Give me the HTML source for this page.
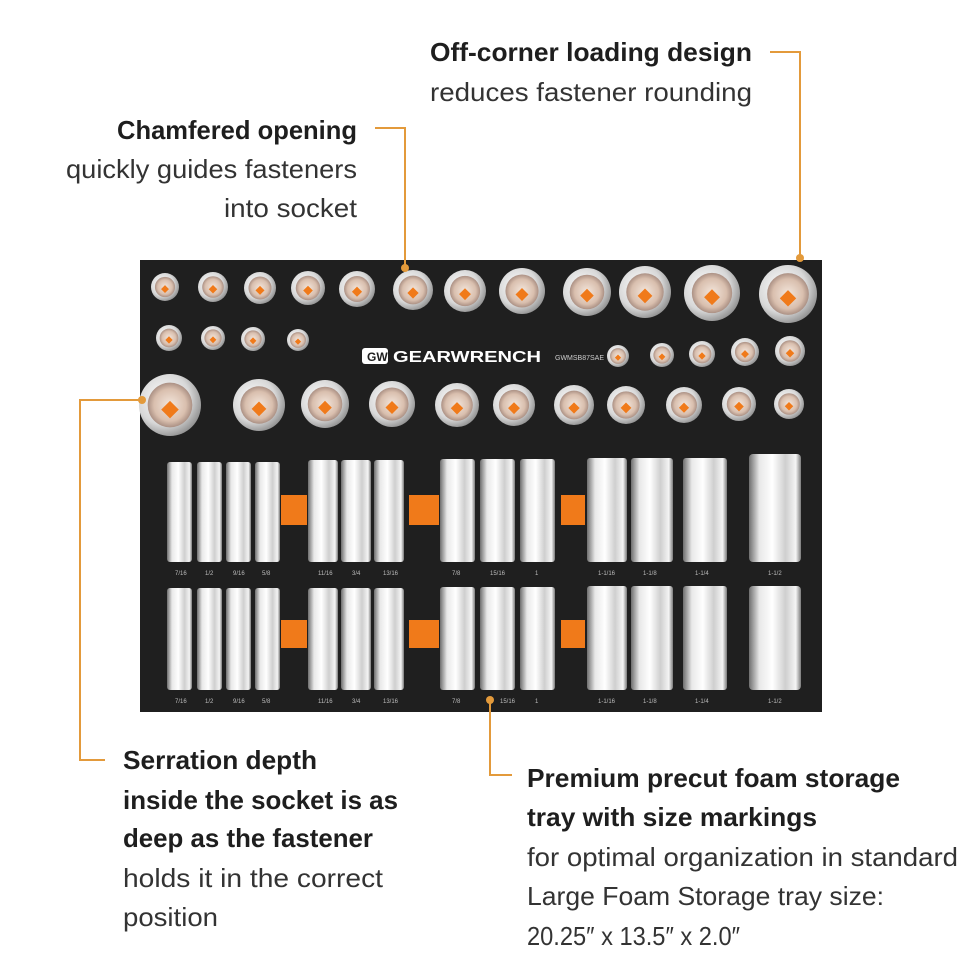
<!DOCTYPE html>
<html><head><meta charset="utf-8"><style>html,body{margin:0;padding:0;background:#fff}svg{display:block}</style></head>
<body>
<svg width="970" height="971" viewBox="0 0 970 971" xmlns="http://www.w3.org/2000/svg" font-family="Liberation Sans, sans-serif">
<defs>
<linearGradient id="ch" x1="0" x2="1" y1="0" y2="0">
<stop offset="0" stop-color="#6e6e6e"/><stop offset="0.2" stop-color="#e8e8e8"/><stop offset="0.45" stop-color="#ffffff"/><stop offset="0.7" stop-color="#cfcfcf"/><stop offset="0.9" stop-color="#f4f4f4"/><stop offset="1" stop-color="#7a7a7a"/>
</linearGradient>
<radialGradient id="rc" cx="0.4" cy="0.4" r="0.7">
<stop offset="0" stop-color="#ffffff"/><stop offset="0.6" stop-color="#d8d8d8"/><stop offset="1" stop-color="#7d7d7d"/>
</radialGradient>
<radialGradient id="inn" cx="0.5" cy="0.5" r="0.6">
<stop offset="0" stop-color="#f3e6dc"/><stop offset="0.6" stop-color="#d9bfae"/><stop offset="1" stop-color="#8a6f66"/>
</radialGradient>
<g id="s"><circle r="1" fill="url(#rc)"/><circle r="0.72" fill="url(#inn)"/><rect x="-0.2" y="-0.05" width="0.4" height="0.4" fill="#f07a1a" transform="rotate(45 0 0.15)"/></g>
</defs>
<rect width="970" height="971" fill="#fff"/>
<rect x="140" y="260" width="682" height="452" fill="#1f1f1f"/>

<use href="#s" transform="translate(165,287) scale(14)"/>
<use href="#s" transform="translate(213,287) scale(15)"/>
<use href="#s" transform="translate(260,288) scale(16)"/>
<use href="#s" transform="translate(308,288) scale(17)"/>
<use href="#s" transform="translate(357,289) scale(18)"/>
<use href="#s" transform="translate(413,290) scale(20)"/>
<use href="#s" transform="translate(465,291) scale(21)"/>
<use href="#s" transform="translate(522,291) scale(23)"/>
<use href="#s" transform="translate(587,292) scale(24)"/>
<use href="#s" transform="translate(645,292) scale(26)"/>
<use href="#s" transform="translate(712,293) scale(28)"/>
<use href="#s" transform="translate(788,294) scale(29)"/>

<use href="#s" transform="translate(169,338) scale(13)"/>
<use href="#s" transform="translate(213,338) scale(12)"/>
<use href="#s" transform="translate(253,339) scale(12)"/>
<use href="#s" transform="translate(298,340) scale(11)"/>
<use href="#s" transform="translate(618,356) scale(11)"/>
<use href="#s" transform="translate(662,355) scale(12)"/>
<use href="#s" transform="translate(702,354) scale(13)"/>
<use href="#s" transform="translate(745,352) scale(14)"/>
<use href="#s" transform="translate(790,351) scale(15)"/>
<rect x="362" y="348" width="26" height="16" rx="3" fill="#fff"/>
<text x="367" y="361" font-size="12" font-weight="bold" fill="#1f1f1f">GW</text>
<text x="393" y="362" font-size="16" font-weight="bold" fill="#fff" textLength="148" lengthAdjust="spacingAndGlyphs">GEARWRENCH</text>
<text x="555" y="360" font-size="7" fill="#ccc">GWMSB87SAE</text>

<use href="#s" transform="translate(170,405) scale(31)"/>
<use href="#s" transform="translate(259,405) scale(26)"/>
<use href="#s" transform="translate(325,404) scale(24)"/>
<use href="#s" transform="translate(392,404) scale(23)"/>
<use href="#s" transform="translate(457,405) scale(22)"/>
<use href="#s" transform="translate(514,405) scale(21)"/>
<use href="#s" transform="translate(574,405) scale(20)"/>
<use href="#s" transform="translate(626,405) scale(19)"/>
<use href="#s" transform="translate(684,405) scale(18)"/>
<use href="#s" transform="translate(739,404) scale(17)"/>
<use href="#s" transform="translate(789,404) scale(15)"/>

<g fill="#f07a1a">
<rect x="281" y="495" width="26" height="30"/><rect x="409" y="495" width="30" height="30"/><rect x="561" y="495" width="24" height="30"/>
<rect x="281" y="620" width="26" height="28"/><rect x="409" y="620" width="30" height="28"/><rect x="561" y="620" width="24" height="28"/>
</g>
<g fill="url(#ch)">
<rect x="167" y="462" width="25" height="100" rx="3"/><rect x="197" y="462" width="25" height="100" rx="3"/><rect x="226" y="462" width="25" height="100" rx="3"/><rect x="255" y="462" width="25" height="100" rx="3"/>
<rect x="308" y="460" width="30" height="102" rx="3"/><rect x="341" y="460" width="30" height="102" rx="3"/><rect x="374" y="460" width="30" height="102" rx="3"/>
<rect x="440" y="459" width="35" height="103" rx="3"/><rect x="480" y="459" width="35" height="103" rx="3"/><rect x="520" y="459" width="35" height="103" rx="3"/>
<rect x="587" y="458" width="40" height="104" rx="3"/><rect x="631" y="458" width="42" height="104" rx="3"/><rect x="683" y="458" width="44" height="104" rx="3"/><rect x="749" y="454" width="52" height="108" rx="4"/>
<rect x="167" y="588" width="25" height="102" rx="3"/><rect x="197" y="588" width="25" height="102" rx="3"/><rect x="226" y="588" width="25" height="102" rx="3"/><rect x="255" y="588" width="25" height="102" rx="3"/>
<rect x="308" y="588" width="30" height="102" rx="3"/><rect x="341" y="588" width="30" height="102" rx="3"/><rect x="374" y="588" width="30" height="102" rx="3"/>
<rect x="440" y="587" width="35" height="103" rx="3"/><rect x="480" y="587" width="35" height="103" rx="3"/><rect x="520" y="587" width="35" height="103" rx="3"/>
<rect x="587" y="586" width="40" height="104" rx="3"/><rect x="631" y="586" width="42" height="104" rx="3"/><rect x="683" y="586" width="44" height="104" rx="3"/><rect x="749" y="586" width="52" height="104" rx="4"/>
</g>
<g fill="#bbb" font-size="6">
<text x="175" y="575">7/16</text><text x="205" y="575">1/2</text><text x="233" y="575">9/16</text><text x="262" y="575">5/8</text>
<text x="318" y="575">11/16</text><text x="352" y="575">3/4</text><text x="383" y="575">13/16</text>
<text x="452" y="575">7/8</text><text x="490" y="575">15/16</text><text x="535" y="575">1</text>
<text x="598" y="575">1-1/16</text><text x="643" y="575">1-1/8</text><text x="695" y="575">1-1/4</text><text x="768" y="575">1-1/2</text>
<text x="175" y="703">7/16</text><text x="205" y="703">1/2</text><text x="233" y="703">9/16</text><text x="262" y="703">5/8</text>
<text x="318" y="703">11/16</text><text x="352" y="703">3/4</text><text x="383" y="703">13/16</text>
<text x="452" y="703">7/8</text><text x="500" y="703">15/16</text><text x="535" y="703">1</text>
<text x="598" y="703">1-1/16</text><text x="643" y="703">1-1/8</text><text x="695" y="703">1-1/4</text><text x="768" y="703">1-1/2</text>
</g>

<g stroke="#e39a3b" stroke-width="2" fill="none">
<polyline points="770,52 800,52 800,258"/>
<polyline points="375,128 405,128 405,268"/>
<polyline points="140,400 80,400 80,760 105,760"/>
<polyline points="490,700 490,775 512,775"/>
</g>
<g fill="#e39a3b"><circle cx="800" cy="258" r="4"/><circle cx="405" cy="268" r="4"/><circle cx="142" cy="400" r="4"/><circle cx="490" cy="700" r="4"/></g>

<g fill="#1e1e1e" font-size="26">
<text x="430" y="61" font-weight="bold" textLength="322" lengthAdjust="spacingAndGlyphs">Off-corner loading design</text>
<text x="430" y="101" fill="#333" textLength="322" lengthAdjust="spacingAndGlyphs">reduces fastener rounding</text>
<text x="357" y="139" font-weight="bold" text-anchor="end" textLength="240" lengthAdjust="spacingAndGlyphs">Chamfered opening</text>
<text x="357" y="178" fill="#333" text-anchor="end" textLength="291" lengthAdjust="spacingAndGlyphs">quickly guides fasteners</text>
<text x="357" y="217" fill="#333" text-anchor="end" textLength="133" lengthAdjust="spacingAndGlyphs">into socket</text>
<text x="123" y="769" font-weight="bold" textLength="194" lengthAdjust="spacingAndGlyphs">Serration depth</text>
<text x="123" y="809" font-weight="bold" textLength="275" lengthAdjust="spacingAndGlyphs">inside the socket is as</text>
<text x="123" y="847" font-weight="bold" textLength="250" lengthAdjust="spacingAndGlyphs">deep as the fastener</text>
<text x="123" y="887" fill="#333" textLength="260" lengthAdjust="spacingAndGlyphs">holds it in the correct</text>
<text x="123" y="926" fill="#333" textLength="95" lengthAdjust="spacingAndGlyphs">position</text>
<text x="527" y="787" font-weight="bold" textLength="373" lengthAdjust="spacingAndGlyphs">Premium precut foam storage</text>
<text x="527" y="826" font-weight="bold" textLength="290" lengthAdjust="spacingAndGlyphs">tray with size markings</text>
<text x="527" y="866" fill="#333" textLength="431" lengthAdjust="spacingAndGlyphs">for optimal organization in standard</text>
<text x="527" y="905" fill="#333" textLength="357" lengthAdjust="spacingAndGlyphs">Large Foam Storage tray size:</text>
<text x="527" y="945" fill="#333" textLength="213" lengthAdjust="spacingAndGlyphs">20.25″ x 13.5″ x 2.0″</text>
</g>
</svg>
</body></html>
